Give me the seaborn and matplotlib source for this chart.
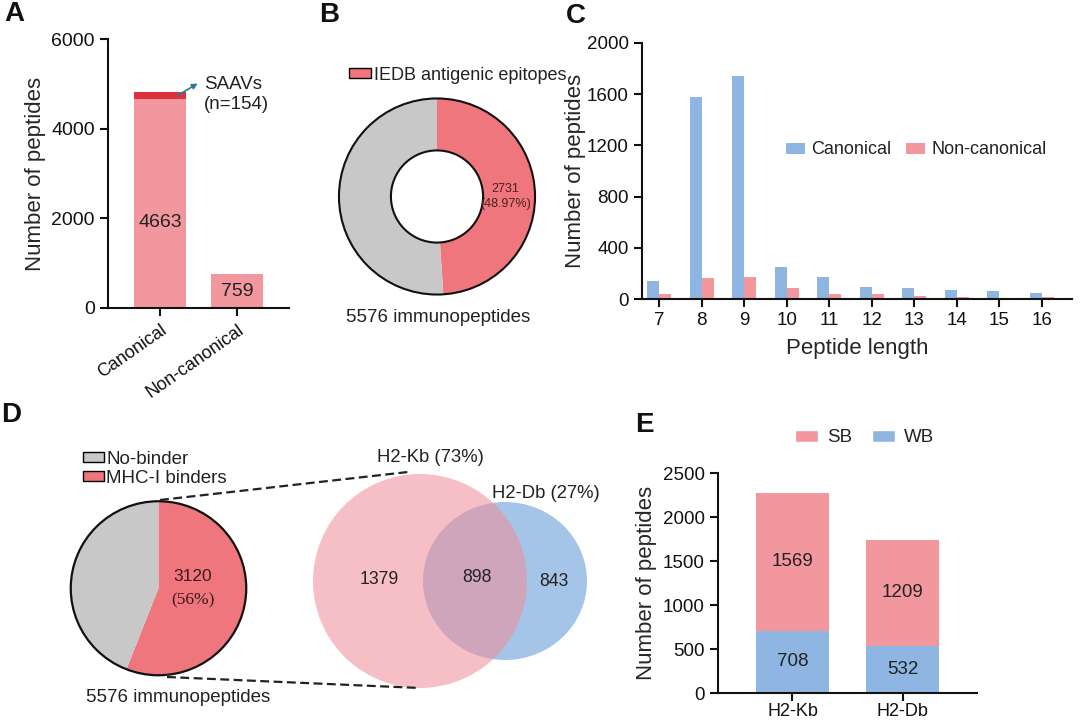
import numpy as np
import pandas as pd
import matplotlib
matplotlib.use("Agg")
import matplotlib.pyplot as plt
import seaborn as sns
from matplotlib.patches import Patch, Circle, Ellipse
from matplotlib.lines import Line2D

# ---------------- data ----------------
# Panel A
a_categories = ["Canonical", "Non-canonical"]
a_base = [4663, 759]
a_saav = [154, 0]

# Panel B
b_iedb = 2731
b_total = 5576
b_pct_label = "48.97%"

# Panel C
c_lengths = [7, 8, 9, 10, 11, 12, 13, 14, 15, 16]
c_canonical = [142, 1575, 1740, 254, 176, 98, 88, 75, 62, 47]
c_noncanonical = [39, 163, 174, 86, 39, 39, 23, 16, 10, 16]

# Panel D
d_total = 5576
d_binders = 3120
d_binder_pct = "56%"
d_only_kb = 1379
d_both = 898
d_only_db = 843
d_kb_label = "H2-Kb (73%)"
d_db_label = "H2-Db (27%)"

# Panel E
e_alleles = ["H2-Kb", "H2-Db"]
e_sb = [1569, 1209]
e_wb = [708, 532]

# ---------------- style ----------------
sns.set_style("ticks")
plt.rcParams["font.family"] = ["Liberation Sans", "DejaVu Sans"]
plt.rcParams["axes.linewidth"] = 1.5
plt.rcParams["xtick.major.width"] = 1.5
plt.rcParams["ytick.major.width"] = 1.5
plt.rcParams["xtick.major.size"] = 6
plt.rcParams["ytick.major.size"] = 6
plt.rcParams["text.color"] = "#222222"
plt.rcParams["xtick.color"] = "#111111"
plt.rcParams["ytick.color"] = "#111111"
plt.rcParams["axes.edgecolor"] = "#111111"

PINK = "#F2979D"
RED = "#E0303B"
BLUE = "#8FB6E3"
DONUT_RED = "#EF767C"
GRAY = "#C8C8C8"
VENN_PINK = "#F08C97"
VENN_BLUE = "#A5C5E8"

W, H = 1080, 721
fig = plt.figure(figsize=(W / 100, H / 100), dpi=100)


def px_axes(l, t, r, b):
    return fig.add_axes([l / W, 1 - b / H, (r - l) / W, (b - t) / H])


def style_axes(ax, labelsize=13.5):
    sns.despine(ax=ax)
    ax.tick_params(labelsize=labelsize, length=6, width=1.5)


# ---------------- panel A ----------------
axA = px_axes(108, 39, 289, 308)
a_total = [b + s for b, s in zip(a_base, a_saav)]
sns.barplot(x=a_categories, y=a_total, color=RED, width=0.675, saturation=1,
            linewidth=0, errorbar=None, ax=axA)
sns.barplot(x=a_categories, y=a_base, color=PINK, width=0.675, saturation=1,
            linewidth=0, errorbar=None, ax=axA)
axA.set_xlim(-0.675, 1.675)
axA.set_ylim(0, 6000)
axA.set_yticks([0, 2000, 4000, 6000])
style_axes(axA, 14)
axA.set_ylabel("Number of peptides", fontsize=16)
axA.set_xticks([0, 1])
axA.set_xticklabels(a_categories, rotation=35, ha="right", rotation_mode="anchor", fontsize=13)
axA.text(0, 1900, str(a_base[0]), ha="center", va="center", fontsize=14)
axA.text(1, 370, str(a_base[1]), ha="center", va="center", fontsize=14)
axA.annotate("", xy=(0.52, 5040), xytext=(0.19, 4700),
             arrowprops=dict(arrowstyle="-|>", color="#2B7A8C", lw=1.2, mutation_scale=8))
axA.text(0.57, 4760, "SAAVs\n(n=%d)" % a_saav[0], ha="left", va="center", fontsize=13.5,
         linespacing=1.25)

# ---------------- panel B ----------------
axB = px_axes(337, 96.5, 537, 296.5)
axB.pie([b_iedb, b_total - b_iedb], colors=[DONUT_RED, GRAY], startangle=90,
        counterclock=False, radius=1, wedgeprops=dict(width=0.53, linewidth=0))
axB.add_patch(Circle((0, 0), 1, fill=False, lw=1.5, ec="#111111"))
axB.add_patch(Circle((0, 0), 0.47, fill=False, lw=1.5, ec="#111111"))
axB.set_xlim(-1.02, 1.02)
axB.set_ylim(-1.02, 1.02)
axB.text(0.70, 0, "%d\n(%s)" % (b_iedb, b_pct_label), ha="center", va="center",
         fontsize=9, color="#4A2020", linespacing=1.3)
fig.legend(handles=[Patch(facecolor=DONUT_RED, edgecolor="black", linewidth=1)],
           labels=["IEDB antigenic epitopes"], loc="center left",
           bbox_to_anchor=(349 / W, 1 - 75 / H), frameon=False, fontsize=13,
           handlelength=1.2, handleheight=0.5, handletextpad=0.2,
           borderpad=0, borderaxespad=0)
fig.text(438 / W, 1 - 318 / H, "%d immunopeptides" % b_total, ha="center", va="center",
         fontsize=13.5)

# ---------------- panel C ----------------
axC = px_axes(641.7, 42.7, 1072, 299.3)
df_c = pd.DataFrame({
    "Peptide length": c_lengths * 2,
    "count": c_canonical + c_noncanonical,
    "type": ["Canonical"] * len(c_lengths) + ["Non-canonical"] * len(c_lengths),
})
sns.barplot(data=df_c, x="Peptide length", y="count", hue="type",
            palette=[BLUE, PINK], width=0.565, saturation=1, linewidth=0,
            errorbar=None, ax=axC)
axC.set_xlim(-0.414, 9.71)
axC.set_ylim(0, 2000)
axC.set_yticks([0, 400, 800, 1200, 1600, 2000])
style_axes(axC, 13.5)
axC.set_ylabel("Number of peptides", fontsize=16)
axC.yaxis.set_label_coords(-0.13, 0.5)
axC.set_xlabel("Peptide length", fontsize=16, labelpad=6)
axC.legend(loc="center left", bbox_to_anchor=(786 / W, 1 - 150 / H),
           bbox_transform=fig.transFigure, ncol=2, frameon=False, fontsize=13,
           handlelength=1.05, handleheight=0.55, handletextpad=0.35,
           columnspacing=0.8, borderpad=0, borderaxespad=0)

# ---------------- panel D ----------------
axD = px_axes(69, 499.5, 248, 677)
axD.pie([d_binders, d_total - d_binders], colors=[DONUT_RED, GRAY], startangle=90,
        counterclock=False, radius=1, wedgeprops=dict(linewidth=0))
axD.set_aspect("auto")
axD.set_xlim(-1.02, 1.02)
axD.set_ylim(-1.02, 1.02)
axD.add_patch(Circle((0, 0), 1, fill=False, lw=1.6, ec="#111111"))
axD.text(0.39, 0.13, str(d_binders), ha="center", va="center", fontsize=12.5, color="#3A1A1A")
axD.text(0.39, -0.14, "(%s)" % d_binder_pct, ha="center", va="center", fontsize=12.5,
         color="#3A1A1A", family=["Liberation Serif", "DejaVu Serif"])
fig.legend(handles=[Patch(facecolor=GRAY, edgecolor="black", linewidth=1),
                    Patch(facecolor=DONUT_RED, edgecolor="black", linewidth=1)],
           labels=["No-binder", "MHC-I binders"], loc="center left",
           bbox_to_anchor=(83 / W, 1 - 469 / H), frameon=False, fontsize=13.5,
           handlelength=1.1, handleheight=0.45, handletextpad=0.15,
           labelspacing=0.12, borderpad=0, borderaxespad=0)
fig.text(178 / W, 1 - 697 / H, "%d immunopeptides" % d_total, ha="center", va="center",
         fontsize=13.5)

for (x0, y0), (x1, y1) in [((160, 500), (408, 472)), ((167, 677), (420, 688))]:
    fig.add_artist(Line2D([x0 / W, x1 / W], [1 - y0 / H, 1 - y1 / H],
                          transform=fig.transFigure, color="#222222", lw=1.6,
                          dashes=(4, 2)))

# Venn
axV = px_axes(300, 440, 620, 700)
axV.set_xlim(300, 620)
axV.set_ylim(700, 440)
axV.axis("off")
axV.add_patch(Ellipse((505, 581), 164, 158, facecolor=VENN_BLUE, lw=0))
axV.add_patch(Circle((420, 581), 107, facecolor=VENN_PINK, alpha=0.55, lw=0))
axV.text(379, 580, str(d_only_kb), ha="center", va="center", fontsize=12.7)
axV.text(477, 578, str(d_both), ha="center", va="center", fontsize=12.7)
axV.text(554, 581, str(d_only_db), ha="center", va="center", fontsize=12.7)
axV.text(430, 458, d_kb_label, ha="center", va="center", fontsize=13.3)
axV.text(546, 494, d_db_label, ha="center", va="center", fontsize=13.3)

# ---------------- panel E ----------------
axE = px_axes(718, 473, 977, 693)
e_total = [s + w for s, w in zip(e_sb, e_wb)]
sns.barplot(x=e_alleles, y=e_total, color=PINK, width=0.66, saturation=1,
            linewidth=0, errorbar=None, ax=axE)
sns.barplot(x=e_alleles, y=e_wb, color=BLUE, width=0.66, saturation=1,
            linewidth=0, errorbar=None, ax=axE)
axE.set_xlim(-0.677, 1.677)
axE.set_ylim(0, 2500)
axE.set_yticks([0, 500, 1000, 1500, 2000, 2500])
style_axes(axE, 13.5)
axE.tick_params(axis="x", labelsize=13, pad=1.5)
axE.set_xlabel("")
axE.set_ylabel("Number of peptides", fontsize=16)
for i in range(len(e_alleles)):
    axE.text(i, e_wb[i] + e_sb[i] / 2, str(e_sb[i]), ha="center", va="center", fontsize=13.5)
    axE.text(i, e_wb[i] / 2, str(e_wb[i]), ha="center", va="center", fontsize=13.5)
fig.legend(handles=[Patch(facecolor=PINK), Patch(facecolor=BLUE)], labels=["SB", "WB"],
           loc="center left", bbox_to_anchor=(795 / W, 1 - 438 / H), ncol=2,
           frameon=False, fontsize=13.5, handlelength=1.25, handleheight=0.6,
           handletextpad=0.45, columnspacing=1.05, borderpad=0, borderaxespad=0)

# ---------------- panel letters ----------------
for letter, (x, y) in {"A": (4, 1), "B": (319, 2), "C": (566, 3), "D": (1, 402), "E": (635, 412)}.items():
    fig.text(x / W, 1 - y / H, letter, ha="left", va="top", fontsize=20, fontweight="bold",
             color="#111111")

fig.savefig("out.png", dpi=100)
